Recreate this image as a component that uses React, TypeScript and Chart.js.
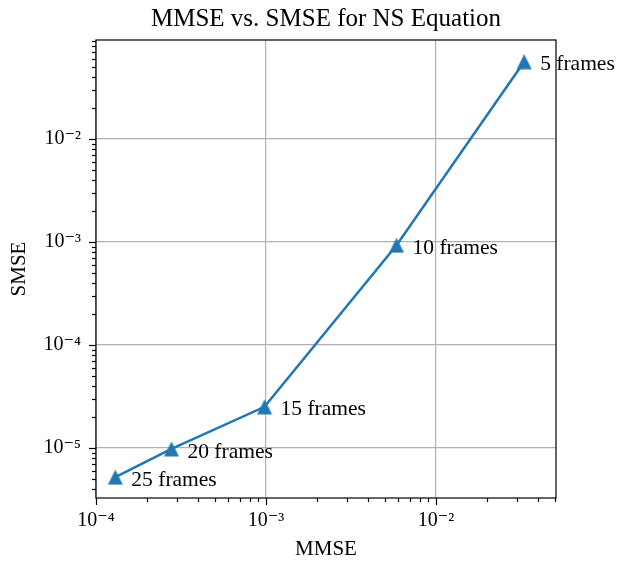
import React, { useEffect, useRef } from "react";
import { Chart, registerables } from "chart.js";

Chart.register(...registerables);

const frameLabels = ["5 frames", "10 frames", "15 frames", "20 frames", "25 frames"];
const mmse = [0.033, 0.00586, 0.00098, 0.000278, 0.00013];
const smse = [0.0563, 0.00093, 0.0000251, 0.0000098, 0.00000521];

const xMin = 1e-4;
const xMax = 0.0508;
const yMin = 3.27e-6;
const yMax = 0.0914;

const TITLE = "MMSE vs. SMSE for NS Equation";
const FONT = "'Liberation Serif', 'DejaVu Serif', serif";
const LINE_COLOR = "#1f77b4";

const SUP: Record<string, string> = {
  "-": "\u207B", "0": "\u2070", "1": "\u00B9", "2": "\u00B2", "3": "\u00B3",
  "4": "\u2074", "5": "\u2075", "6": "\u2076", "7": "\u2077", "8": "\u2078", "9": "\u2079",
};

function isMajor(v: number) {
  const l = Math.log10(v);
  return Math.abs(l - Math.round(l)) < 1e-6;
}
function powLabel(v: number) {
  if (!isMajor(v)) return "";
  const e = String(Math.round(Math.log10(v)));
  return "10" + e.split("").map((c) => SUP[c] || c).join("");
}

function makeTriangle() {
  const c = document.createElement("canvas");
  const s = 16;
  c.width = s;
  c.height = s;
  const g = c.getContext("2d")!;
  g.fillStyle = LINE_COLOR;
  g.beginPath();
  g.moveTo(s / 2, 0.5);
  g.lineTo(s - 0.5, s - 0.5);
  g.lineTo(0.5, s - 0.5);
  g.closePath();
  g.fill();
  return c;
}

const framePlugin = {
  id: "frameTicks",
  afterDraw(chart: any) {
    const { ctx, chartArea } = chart;
    const xs = chart.scales.x;
    const ys = chart.scales.y;
    ctx.save();
    ctx.strokeStyle = "#000";
    ctx.lineWidth = 1.2;
    const drawX = (v: number, len: number) => {
      const p = Math.round(xs.getPixelForValue(v)) + 0.5;
      ctx.beginPath();
      ctx.moveTo(p, chartArea.bottom);
      ctx.lineTo(p, chartArea.bottom + len);
      ctx.stroke();
    };
    const drawY = (v: number, len: number) => {
      const p = Math.round(ys.getPixelForValue(v)) + 0.5;
      ctx.beginPath();
      ctx.moveTo(chartArea.left, p);
      ctx.lineTo(chartArea.left - len, p);
      ctx.stroke();
    };
    for (let e = -7; e <= 0; e++) {
      for (let m = 1; m <= 9; m++) {
        const v = m * Math.pow(10, e);
        const len = m === 1 ? 7 : 4;
        if (v >= xMin * 0.999 && v <= xMax) drawX(v, len);
        if (v >= yMin && v <= yMax) drawY(v, len);
      }
    }
    ctx.strokeRect(chartArea.left, chartArea.top, chartArea.right - chartArea.left, chartArea.bottom - chartArea.top);
    // title centred over the plot area
    ctx.fillStyle = "#000";
    ctx.font = `25px ${FONT}`;
    ctx.textAlign = "center";
    ctx.textBaseline = "middle";
    ctx.fillText(TITLE, (chartArea.left + chartArea.right) / 2, 19);
    ctx.restore();
  },
  afterDatasetsDraw(chart: any) {
    const { ctx } = chart;
    const meta = chart.getDatasetMeta(0);
    ctx.save();
    ctx.fillStyle = "#000";
    ctx.font = `21.5px ${FONT}`;
    ctx.textAlign = "left";
    ctx.textBaseline = "middle";
    meta.data.forEach((el: any, i: number) => {
      ctx.fillText(frameLabels[i], el.x + 16, el.y + 3);
    });
    ctx.restore();
  },
};

export default function App() {
  const ref = useRef<HTMLCanvasElement | null>(null);
  useEffect(() => {
    document.body.style.margin = "0";
    const tri = makeTriangle();
    const chart = new Chart(ref.current!, {
      type: "line",
      data: {
        datasets: [
          {
            data: mmse.map((x, i) => ({ x, y: smse[i] })),
            borderColor: LINE_COLOR,
            backgroundColor: LINE_COLOR,
            borderWidth: 2.5,
            pointStyle: tri as any,
            pointRadius: 8,
            tension: 0,
          },
        ],
      },
      options: {
        responsive: false,
        animation: false,
        layout: { padding: { left: 0, right: 62, top: 40, bottom: 0 } },
        plugins: {
          legend: { display: false },
          tooltip: { enabled: false },
          title: { display: false },
        },
        scales: {
          x: {
            type: "logarithmic",
            min: xMin,
            max: xMax,
            afterFit: (s: any) => { s.height = 66; },
            border: { display: false },
            grid: {
              drawTicks: false,
              lineWidth: 1.2,
              color: (c: any) => (c.tick && isMajor(c.tick.value) ? "#b0b0b0" : "rgba(0,0,0,0)"),
            },
            ticks: {
              autoSkip: false,
              maxRotation: 0,
              padding: 11,
              color: "#000",
              font: { family: FONT, size: 20 },
              callback: (v: any) => powLabel(Number(v)),
            },
            title: {
              display: true,
              text: "MMSE",
              color: "#000",
              font: { family: FONT, size: 21 },
              padding: { top: 0, bottom: 2 },
            },
          },
          y: {
            type: "logarithmic",
            min: yMin,
            max: yMax,
            afterFit: (s: any) => { s.width = 96; },
            border: { display: false },
            grid: {
              drawTicks: false,
              lineWidth: 1.2,
              color: (c: any) => (c.tick && isMajor(c.tick.value) ? "#b0b0b0" : "rgba(0,0,0,0)"),
            },
            ticks: {
              autoSkip: false,
              padding: 15,
              color: "#000",
              font: { family: FONT, size: 20 },
              callback: (v: any) => powLabel(Number(v)),
            },
            title: {
              display: true,
              text: "SMSE",
              color: "#000",
              font: { family: FONT, size: 21 },
              padding: { top: 7, bottom: 0 },
            },
          },
        },
      },
      plugins: [framePlugin],
    });
    return () => chart.destroy();
  }, []);
  return <canvas ref={ref} width={618} height={564} style={{ display: "block" }} />;
}
